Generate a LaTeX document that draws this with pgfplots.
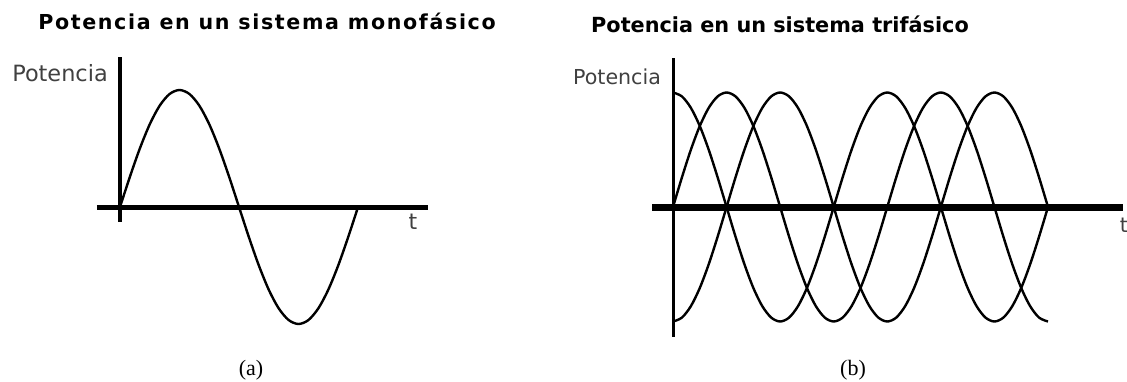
\documentclass[border=0pt]{standalone}
\usepackage{pgfplots}
\pgfplotsset{compat=1.18}
\usepackage{pgfplotstable}
\usepackage{fontspec}
\setmainfont{Liberation Serif}
\newfontfamily\dejavu{DejaVu Sans}
\newfontfamily\dejavuwide[LetterSpace=8]{DejaVu Sans}

% single phase: one period, angle in degrees
\pgfplotstableread{
deg s
0 0
15 0.2588
30 0.5
45 0.7071
60 0.8660
75 0.9659
90 1
105 0.9659
120 0.8660
135 0.7071
150 0.5
165 0.2588
180 0
195 -0.2588
210 -0.5
225 -0.7071
240 -0.8660
255 -0.9659
270 -1
285 -0.9659
300 -0.8660
315 -0.7071
330 -0.5
345 -0.2588
360 0
}\mono

% three curves: c starts at the top, s at zero, n at the bottom
\pgfplotstableread{
deg c s n
0 1 0 -1
15 0.9659 0.2588 -0.9659
30 0.8660 0.5 -0.8660
45 0.7071 0.7071 -0.7071
60 0.5 0.8660 -0.5
75 0.2588 0.9659 -0.2588
90 0 1 0
105 -0.2588 0.9659 0.2588
120 -0.5 0.8660 0.5
135 -0.7071 0.7071 0.7071
150 -0.8660 0.5 0.8660
165 -0.9659 0.2588 0.9659
180 -1 0 1
195 -0.9659 -0.2588 0.9659
210 -0.8660 -0.5 0.8660
225 -0.7071 -0.7071 0.7071
240 -0.5 -0.8660 0.5
255 -0.2588 -0.9659 0.2588
270 0 -1 0
285 0.2588 -0.9659 -0.2588
300 0.5 -0.8660 -0.5
315 0.7071 -0.7071 -0.7071
330 0.8660 -0.5 -0.8660
345 0.9659 -0.2588 -0.9659
360 1 0 -1
375 0.9659 0.2588 -0.9659
390 0.8660 0.5 -0.8660
405 0.7071 0.7071 -0.7071
420 0.5 0.8660 -0.5
435 0.2588 0.9659 -0.2588
450 0 1 0
465 -0.2588 0.9659 0.2588
480 -0.5 0.8660 0.5
495 -0.7071 0.7071 0.7071
510 -0.8660 0.5 0.8660
525 -0.9659 0.2588 0.9659
540 -1 0 1
555 -0.9659 -0.2588 0.9659
570 -0.8660 -0.5 0.8660
585 -0.7071 -0.7071 0.7071
600 -0.5 -0.8660 0.5
615 -0.2588 -0.9659 0.2588
630 0 -1 0
}\tri

\pgfplotsset{
  wave/.style={
    anchor=origin,
    axis lines=middle,
    axis line style={-},
    enlargelimits=false,
    clip=false,
    xtick=\empty, ytick=\empty,
  },
}

\begin{document}
\begin{tikzpicture}[x=0.5pt,y=0.5pt]
\useasboundingbox (0,0) rectangle (1127,381);
\clip (0,0) rectangle (1127,381);

\begin{axis}[wave,
  at={(60pt,87pt)},
  x=0.3306pt, y=58.5pt,
  xmin=-34.8, xmax=465.9, ymin=-0.128, ymax=1.282,
  x axis line style={line width=2.5pt},
  y axis line style={line width=1.7pt},
]
\addplot[smooth, black, line width=1.2pt] table[x=deg,y=s]{\mono};
\end{axis}

\begin{axis}[wave,
  at={(336.5pt,87pt)},
  x=0.2976pt, y=57.25pt,
  xmin=-35.3, xmax=756, ymin=-1.135, ymax=1.301,
  x axis line style={line width=3.5pt},
  y axis line style={line width=1.5pt},
]
\addplot[smooth, black, line width=1.2pt] table[x=deg,y=c]{\tri};
\addplot[smooth, black, line width=1.2pt] table[x=deg,y=s]{\tri};
\addplot[smooth, black, line width=1.2pt] table[x=deg,y=n]{\tri};
\end{axis}

\node[font=\dejavuwide\bfseries\fontsize{10.3}{12}\selectfont] at (267,360) {Potencia en un sistema monofásico};
\node[font=\dejavu\bfseries\fontsize{10.4}{12}\selectfont] at (780,357) {Potencia en un sistema trifásico};
\node[font=\dejavu\fontsize{11.2}{13}\selectfont, text=black!75] at (60,308) {Potencia};
\node[font=\dejavu\fontsize{11}{13}\selectfont, text=black!75] at (413,159) {t};
\node[font=\dejavu\fontsize{10.3}{12}\selectfont, text=black!75] at (617,304) {Potencia};
\node[font=\dejavu\fontsize{10.3}{12}\selectfont, text=black!75] at (1124,156) {t};
\node[font=\fontsize{11}{13}\selectfont] at (251,11) {(a)};
\node[font=\fontsize{11}{13}\selectfont] at (853,11) {(b)};
\end{tikzpicture}
\end{document}
